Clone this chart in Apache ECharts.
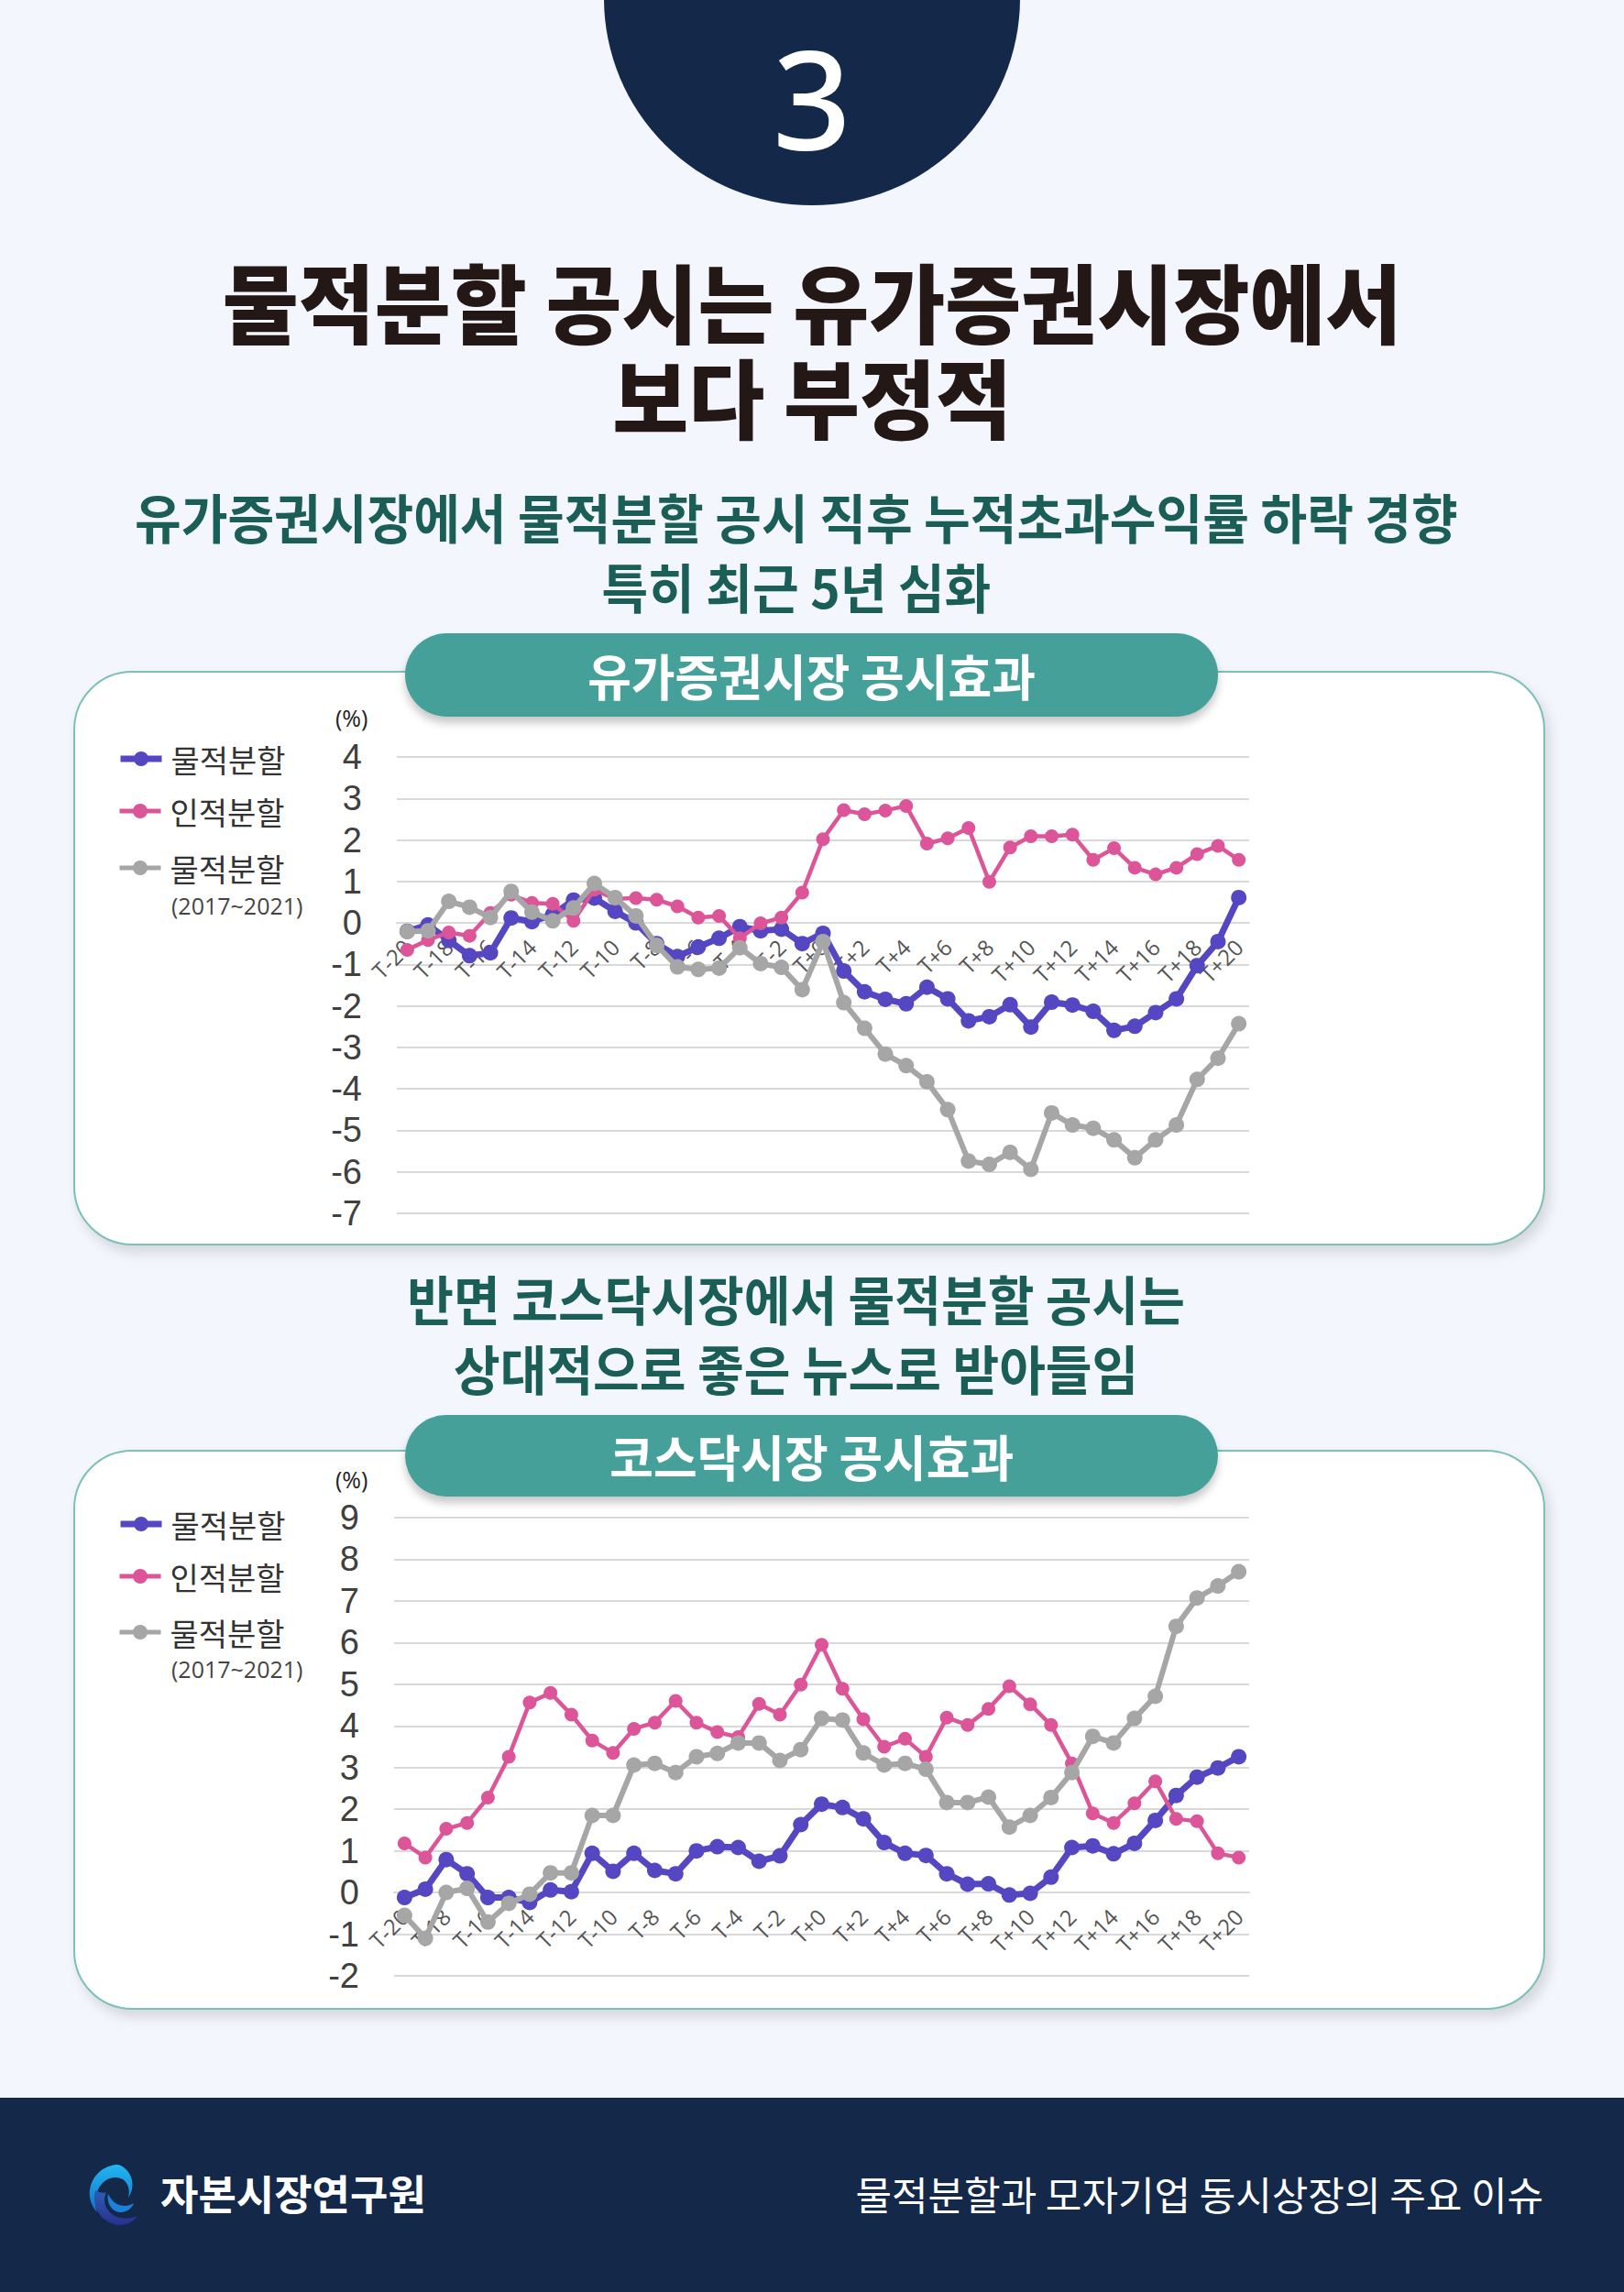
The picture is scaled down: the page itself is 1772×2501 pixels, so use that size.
<!DOCTYPE html>
<html><head><meta charset="utf-8">
<script src="https://cdn.jsdelivr.net/npm/echarts/dist/echarts.min.js"></script>
<style>
html,body{margin:0;padding:0;}
body{width:1772px;height:2501px;background:#f3f6fc;position:relative;overflow:hidden;font-family:"Noto Sans CJK KR","Noto Sans",sans-serif;}
.abs{position:absolute;}
.block{position:absolute;left:0;width:1772px;text-align:center;white-space:pre-line;}
.block span{display:inline-block;transform-origin:center;}
.title{font-size:94px;font-weight:900;color:#231815;line-height:104px;}
.title span{transform:scaleX(.96);}
.sub{left:-17px;font-size:58px;font-weight:700;color:#1b5e57;line-height:76px;}
.sub span{transform:scaleX(.95);}
.pill{position:absolute;left:442px;width:887px;border-radius:46px;background:#45a09a;box-shadow:0 7px 10px rgba(0,0,0,.22);text-align:center;color:#fff;font-size:54px;font-weight:700;z-index:5;}
.pill span{display:inline-block;transform:scaleX(.96);}
.card{position:absolute;left:80px;width:1602px;background:#fff;border:2px solid #7cc0b6;border-radius:64px;box-shadow:5px 8px 14px rgba(0,0,0,.13);}
.chart{position:absolute;left:80px;width:1606px;z-index:3;}
</style></head>
<body>
<div class="abs" style="left:659px;top:-2px;width:454px;height:226px;background:#14284a;border-radius:0 0 50% 50% / 0 0 100% 100%;"></div>
<div class="abs" style="left:659px;top:31px;width:454px;text-align:center;color:#fff;font-family:'Noto Sans';font-weight:500;font-size:150px;line-height:150px;height:150px;">3</div>

<div class="block title" style="top:275px;"><span>물적분할 공시는 유가증권시장에서
보다 부정적</span></div>

<div class="block sub" style="top:525px;"><span>유가증권시장에서 물적분할 공시 직후 누적초과수익률 하락 경향
특히 최근 5년 심화</span></div>

<div class="card" style="top:732px;height:623px;"></div>
<div class="pill" style="top:691px;height:91px;line-height:91px;"><span>유가증권시장 공시효과</span></div>
<div id="c1" class="chart" style="top:732px;height:627px;"></div>

<div class="block sub" style="top:1378px;"><span>반면 코스닥시장에서 물적분할 공시는
상대적으로 좋은 뉴스로 받아들임</span></div>

<div class="card" style="top:1582px;height:607px;"></div>
<div class="pill" style="top:1544px;height:89px;line-height:89px;"><span>코스닥시장 공시효과</span></div>
<div id="c2" class="chart" style="top:1582px;height:611px;"></div>

<div class="abs" style="left:0;top:2289px;width:1772px;height:212px;background:#14284a;"></div>
<svg class="abs" style="left:94px;top:2360px;" width="70" height="70" viewBox="0 0 70 70">
  <defs>
    <linearGradient id="lg1" x1="0" y1="0" x2="0" y2="1"><stop offset="0" stop-color="#22b6f0"/><stop offset="1" stop-color="#1670c8"/></linearGradient>
    <linearGradient id="lg2" x1="0" y1="0" x2="0" y2="1"><stop offset="0" stop-color="#2a5fb8"/><stop offset="1" stop-color="#2b2f8f"/></linearGradient>
  </defs>
  <path d="M33 2 C14 4 2 20 4 38 C5 44 8 50 12 54 C8 44 10 30 18 22 C24 16 32 14 40 18 C46 22 48 30 46 38 C52 30 52 18 46 10 C42 5 38 2 33 2 Z" fill="url(#lg1)"/>
  <path d="M10 30 C6 46 14 62 30 67 C40 70 50 66 56 58 C48 62 36 62 28 56 C20 50 18 40 22 32 C18 34 14 32 10 30 Z" fill="url(#lg2)"/>
  <path d="M24 34 C22 44 28 54 38 54 C44 54 50 50 52 44 C46 48 38 48 32 44 C28 41 26 38 24 34 Z" fill="#1e7fd6"/>
</svg>
<div class="abs" style="left:175px;top:2366px;color:#fff;font-size:45px;font-weight:700;line-height:54px;white-space:nowrap;">자본시장연구원</div>
<div class="abs" style="right:88px;top:2366px;color:#fff;font-size:43px;font-weight:400;line-height:54px;white-space:nowrap;">물적분할과 모자기업 동시상장의 주요 이슈</div>

<script>
// ----- data -----
const categories = ['T-20','T-19','T-18','T-17','T-16','T-15','T-14','T-13','T-12','T-11','T-10','T-9','T-8','T-7','T-6','T-5','T-4','T-3','T-2','T-1','T+0','T+1','T+2','T+3','T+4','T+5','T+6','T+7','T+8','T+9','T+10','T+11','T+12','T+13','T+14','T+15','T+16','T+17','T+18','T+19','T+20'];
const seriesNames = ['물적분할','인적분할','물적분할(2017~2021)'];
const legendLabels = ['물적분할','인적분할','물적분할'];
const kospiPhysical = [-0.2,-0.05,-0.42,-0.79,-0.72,0.12,0.03,0.2,0.55,0.6,0.28,0.0,-0.5,-0.81,-0.58,-0.37,-0.09,-0.19,-0.15,-0.5,-0.25,-1.16,-1.66,-1.84,-1.95,-1.55,-1.83,-2.36,-2.26,-1.97,-2.51,-1.91,-1.98,-2.13,-2.59,-2.49,-2.16,-1.83,-1.03,-0.45,0.61];
const kospiHuman = [-0.65,-0.41,-0.23,-0.31,0.24,0.68,0.48,0.46,0.05,0.8,0.58,0.6,0.56,0.4,0.13,0.17,-0.37,-0.01,0.13,0.73,2.02,2.72,2.62,2.71,2.82,1.91,2.04,2.29,0.99,1.82,2.09,2.09,2.13,1.52,1.8,1.33,1.17,1.33,1.66,1.86,1.52];
const kospiRecent = [-0.21,-0.19,0.52,0.38,0.13,0.76,0.26,0.05,0.36,0.95,0.61,0.17,-0.54,-1.06,-1.12,-1.09,-0.6,-0.98,-1.07,-1.61,-0.45,-1.92,-2.54,-3.16,-3.44,-3.83,-4.5,-5.74,-5.82,-5.53,-5.94,-4.58,-4.87,-4.95,-5.23,-5.66,-5.23,-4.87,-3.77,-3.26,-2.43];
const kosdaqPhysical = [-0.12,0.08,0.79,0.45,-0.12,-0.12,-0.24,0.06,0.02,0.94,0.51,0.94,0.53,0.45,1.0,1.1,1.08,0.75,0.88,1.63,2.12,2.04,1.77,1.2,0.94,0.89,0.45,0.2,0.21,-0.06,-0.02,0.37,1.08,1.12,0.93,1.18,1.73,2.33,2.77,2.99,3.26];
const kosdaqHuman = [1.18,0.84,1.53,1.67,2.28,3.26,4.56,4.79,4.27,3.65,3.35,3.93,4.08,4.6,4.08,3.85,3.73,4.53,4.27,4.99,5.95,4.89,4.16,3.5,3.69,3.26,4.2,4.02,4.41,4.95,4.52,4.02,3.1,1.9,1.67,2.14,2.67,1.77,1.71,0.94,0.84];
const kosdaqRecent = [-0.55,-1.1,0.0,0.1,-0.71,-0.26,-0.04,0.47,0.47,1.85,1.85,3.06,3.1,2.88,3.26,3.34,3.59,3.59,3.17,3.43,4.18,4.14,3.35,3.06,3.1,2.96,2.16,2.16,2.29,1.57,1.85,2.28,2.88,3.75,3.59,4.18,4.71,6.39,7.07,7.36,7.7];
const kospiRange = [-7, 4];
const kosdaqRange = [-2, 9];

// ----- styling -----
const colors = ['#5546c2','#dc5599','#a6a6a6'];
const widths = [7,4.5,6];
const symSizes = [17,15,17];

function buildOption(data, range, L) {
  const legends = seriesNames.map((n, i) => ({
    data: [n], orient: 'vertical', left: 48, top: L.legendY[i] - 20, padding: 0,
    itemWidth: 45, itemHeight: 20, selectedMode: false,
    lineStyle: { width: i === 0 ? 7 : 5 },
    formatter: () => legendLabels[i],
    textStyle: { fontSize: 34, color: '#333', fontFamily: 'Noto Sans CJK KR', padding: [0,0,0,5] }
  }));
  // x axis sits on the zero value line of the y scale
  const zeroOffset = -(0 - range[0]) / (range[1] - range[0]) * L.gh;
  return {
    animation: false,
    legend: legends,
    grid: { left: L.gl, top: L.gt, width: L.gw, height: L.gh },
    xAxis: {
      type: 'category', data: categories, boundaryGap: true,
      position: 'bottom', offset: zeroOffset,
      axisLine: { onZero: false, lineStyle: { color: '#d9d9d9', width: 2 } },
      axisTick: { show: false },
      axisLabel: { interval: 1, rotate: 45, fontSize: 24, color: '#555', fontFamily: 'Open Sans', margin: 22 }
    },
    yAxis: {
      type: 'value', min: range[0], max: range[1], interval: 1,
      axisLine: { show: false }, axisTick: { show: false },
      axisLabel: { fontSize: 38, color: '#404040', fontFamily: 'Liberation Sans', margin: 38 },
      splitLine: { lineStyle: { color: '#d9d9d9', width: 2 } }
    },
    graphic: [
      { type: 'text', left: 286, top: L.pctTop, style: { text: '(%)', fontSize: 25, fill: '#222', fontFamily: 'Open Sans' } },
      { type: 'text', left: 107, top: L.subTop, style: { text: '(2017~2021)', fontSize: 25, fill: '#444', fontFamily: 'Open Sans' } }
    ],
    series: data.map((d, i) => ({
      name: seriesNames[i], type: 'line', data: d,
      symbol: 'circle', symbolSize: symSizes[i], showAllSymbol: true,
      itemStyle: { color: colors[i] },
      lineStyle: { color: colors[i], width: widths[i] },
      z: 2 + i
    }))
  };
}

const c1 = echarts.init(document.getElementById('c1'), null, { renderer: 'svg' });
c1.setOption(buildOption([kospiPhysical, kospiHuman, kospiRecent], kospiRange,
  { gl: 353, gt: 94, gw: 930, gh: 498, legendY: [99,156,218], pctTop: 38, subTop: 243 }));

const c2 = echarts.init(document.getElementById('c2'), null, { renderer: 'svg' });
c2.setOption(buildOption([kosdaqPhysical, kosdaqHuman, kosdaqRecent], kosdaqRange,
  { gl: 350, gt: 74, gw: 933, gh: 500, legendY: [84,141,202], pctTop: 19, subTop: 226 }));
</script>
</body></html>
